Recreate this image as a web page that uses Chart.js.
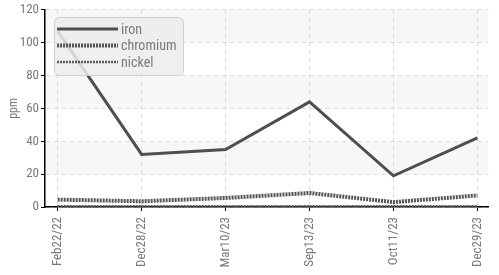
<!DOCTYPE html>
<html lang="en">
<head>
    <meta charset="UTF-8">
    <title>ppm</title>
    <script src="https://cdn.jsdelivr.net/npm/chart.js"></script>
    <style>
        html, body { margin: 0; padding: 0; background: #fff; }
        #wrap { width: 499px; height: 275px; }
    </style>
</head>
<body>
    <div id="wrap"><canvas id="ppmChart"></canvas></div>
    <script>
        // sample dates
        const dates = ['Feb22/22', 'Dec28/22', 'Mar10/23', 'Sep13/23', 'Oct11/23', 'Dec29/23'];

        // values (ppm)
        const iron = [107, 32, 35, 64, 19, 42];
        const chromium = [4.5, 3.5, 5.5, 8.5, 3, 7];
        const nickel = [0.5, 0.5, 0.5, 0.5, 0.5, 0.5];

        const yTicks = [0, 20, 40, 60, 80, 100, 120];

        const FONT = '"Roboto Condensed", Roboto, sans-serif';

        const toPoints = arr => arr.map((v, i) => ({ x: i, y: v }));

        // alternating bands behind the grid
        const bands = {
            id: 'bands',
            beforeDraw(chart) {
                const { ctx, chartArea: a, scales: { y } } = chart;
                ctx.save();
                ctx.fillStyle = '#f7f7f7';
                for (let i = 0; i < yTicks.length - 1; i++) {
                    if ((yTicks.length - 2 - i) % 2 !== 0) continue;
                    const top = y.getPixelForValue(yTicks[i + 1]);
                    const bot = y.getPixelForValue(yTicks[i]);
                    ctx.fillRect(a.left, top, a.right - a.left, bot - top);
                }
                ctx.restore();
            }
        };

        // jqplot-like legend box on top of the lines
        const boxLegend = {
            id: 'boxLegend',
            afterDatasetsDraw(chart) {
                const { ctx } = chart;
                const x = 54.5, y = 17.5, w = 129, h = 58, r = 5;
                ctx.save();
                ctx.beginPath();
                ctx.roundRect(x, y, w, h, r);
                ctx.fillStyle = 'rgba(236,236,236,0.85)';
                ctx.fill();
                ctx.strokeStyle = '#cfcfcf';
                ctx.lineWidth = 1;
                ctx.stroke();
                chart.data.datasets.forEach((ds, i) => {
                    const ly = 29 + i * 16.5;
                    ctx.beginPath();
                    ctx.setLineDash(ds.borderDash || []);
                    ctx.lineWidth = ds.borderWidth;
                    ctx.strokeStyle = ds.borderColor;
                    ctx.moveTo(57, ly);
                    ctx.lineTo(118, ly);
                    ctx.stroke();
                    ctx.setLineDash([]);
                    ctx.fillStyle = '#7a7a7a';
                    ctx.font = '14px ' + FONT;
                    ctx.textBaseline = 'middle';
                    ctx.fillText(ds.label, 121, ly + 1);
                });
                ctx.restore();
            }
        };

        const ctx = document.getElementById('ppmChart').getContext('2d');
        new Chart(ctx, {
            type: 'line',
            data: {
                datasets: [{
                    label: 'iron',
                    data: toPoints(iron),
                    borderColor: '#4f4f4f',
                    borderWidth: 3
                }, {
                    label: 'chromium',
                    data: toPoints(chromium),
                    borderColor: '#555',
                    borderWidth: 4,
                    borderDash: [2, 1]
                }, {
                    label: 'nickel',
                    data: toPoints(nickel),
                    borderColor: '#5a5a5a',
                    borderWidth: 2.5,
                    borderDash: [2, 1]
                }]
            },
            options: {
                responsive: true,
                maintainAspectRatio: false,
                animation: false,
                elements: { point: { radius: 0 }, line: { tension: 0 } },
                layout: { padding: { top: 8, right: 0, left: 0, bottom: 0 } },
                plugins: {
                    legend: { display: false },
                    tooltip: { enabled: false }
                },
                scales: {
                    x: {
                        type: 'linear',
                        min: -0.151,
                        max: 5.128,
                        afterBuildTicks: axis => { axis.ticks = dates.map((_, i) => ({ value: i })); },
                        afterFit: axis => { axis.height = 68; },
                        border: { display: true, color: '#000', width: 1.5, dash: [4, 4] },
                        grid: {
                            color: '#d9d9d9',
                            tickColor: '#000',
                            tickBorderDash: [],
                            tickLength: 4
                        },
                        ticks: {
                            minRotation: 90,
                            maxRotation: 90,
                            autoSkip: false,
                            padding: 6,
                            color: '#7a7a7a',
                            font: { family: FONT, size: 13 },
                            callback: v => dates[v]
                        }
                    },
                    y: {
                        min: 0,
                        max: 120,
                        afterBuildTicks: axis => { axis.ticks = yTicks.map(v => ({ value: v })); },
                        afterFit: axis => { axis.width = 45; },
                        border: { display: true, color: '#000', width: 1.5, dash: [4, 4] },
                        grid: {
                            color: '#d9d9d9',
                            tickColor: '#000',
                            tickBorderDash: [],
                            tickLength: 4
                        },
                        ticks: {
                            padding: 2,
                            color: '#7a7a7a',
                            font: { family: FONT, size: 13 }
                        },
                        title: {
                            display: true,
                            text: 'ppm',
                            color: '#7a7a7a',
                            padding: { top: 7, bottom: 0 },
                            font: { family: FONT, size: 12 }
                        }
                    }
                }
            },
            plugins: [bands, boxLegend]
        });
    </script>
</body>
</html>
